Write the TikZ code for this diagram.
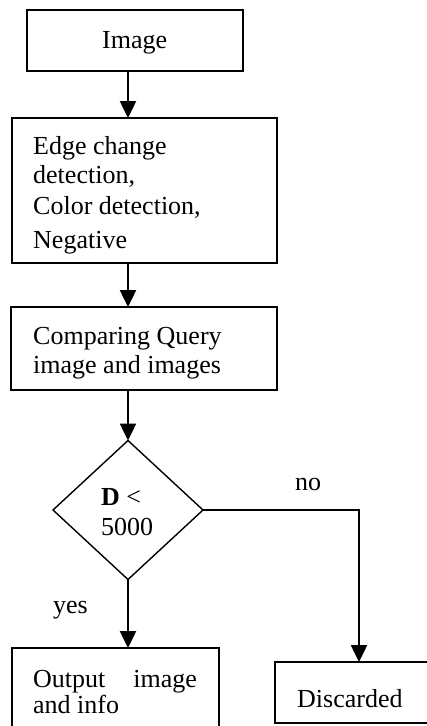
\documentclass[tikz,border=0pt]{standalone}
\usepackage{fontspec}
\setmainfont{Liberation Serif}
\usetikzlibrary{shapes.geometric,arrows.meta}

\tikzset{
  box/.style={draw, line width=1.4pt, rectangle, inner sep=0pt, outer sep=0pt},
  decide/.style={draw, line width=1.4pt, diamond, inner sep=0pt, outer sep=0pt,
    minimum width=150pt, minimum height=139pt},
  txt/.style={anchor=base west, inner sep=0pt, font=\fontsize{26}{30}\selectfont},
  flow/.style={line width=2.5pt, -{Triangle[width=16pt,length=17pt]}}
}

\begin{document}
\begin{tikzpicture}[x=1pt,y=-1pt]
  \useasboundingbox (0,0) rectangle (427,726);
  \clip (0,0) rectangle (427,726);

  % boxes of the flow chart
  \node[box, minimum width=216pt, minimum height=61pt] (img)  at (135,40.5) {};
  \node[box, minimum width=265pt, minimum height=145pt] (edge) at (144.5,190.5) {};
  \node[box, minimum width=266pt, minimum height=83pt] (cmp)  at (144,348.5) {};
  \node[decide] (dia) at (128,510) {};
  \node[box, minimum width=207pt, minimum height=100pt] (out)  at (115.5,698) {};
  \node[box, minimum width=168pt, minimum height=61pt] (disc) at (359,692.5) {};

  % texts
  \node[txt] (timg) at (102,48) {Image};
  \node[txt] (te1) at (33,154) {Edge change};
  \node[txt] (te2) at (33,183) {detection,};
  \node[txt] (te3) at (33,214) {Color detection,};
  \node[txt] (te4) at (33,248) {Negative};
  \node[txt] (tc1) at (33,344) {Comparing Query};
  \node[txt] (tc2) at (33,373) {image and images};
  \node[txt] (td1) at (101,505) {\textbf{D} <};
  \node[txt] (td2) at (101,535) {5000};
  \node[txt] (tno) at (295,490) {no};
  \node[txt] (tyes) at (53,613) {yes};
  \node[txt] (to1) at (33,687) {Output\hspace{28pt}image};
  \node[txt] (to2) at (33,713) {and info};
  \node[txt] (tdisc) at (297,707) {Discarded};

  % connectors
  \draw[flow] (img.south -| dia.north) -- (edge.north -| dia.north);
  \draw[flow] (edge.south -| dia.north) -- (cmp.north -| dia.north);
  \draw[flow] (cmp.south -| dia.north) -- (dia.north);
  \draw[flow] (dia.south) -- (out.north -| dia.south);
  \draw[flow] (dia.east) -| (disc.north);
\end{tikzpicture}
\end{document}
